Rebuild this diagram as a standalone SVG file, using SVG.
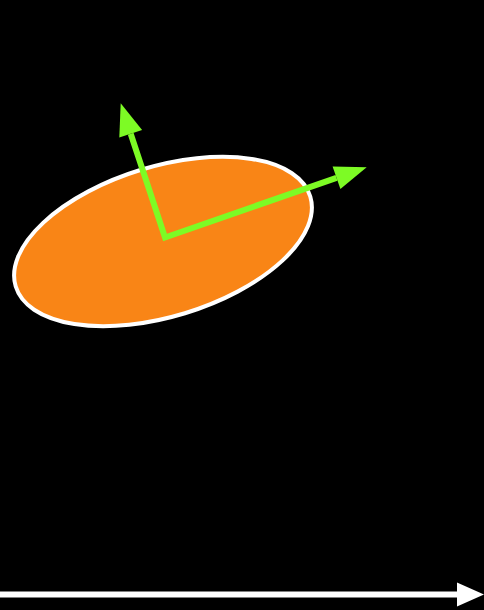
<svg xmlns="http://www.w3.org/2000/svg" width="484" height="610" viewBox="0 0 484 610">
<style>
.green{stroke:#7dfb25;stroke-width:6;fill:none;stroke-linejoin:miter}
.greenhead{fill:#7dfb25}
</style>
<rect x="0" y="0" width="484" height="610" fill="#000000"/>
<g id="ellipse">
<ellipse cx="163" cy="241.5" rx="154" ry="75" transform="rotate(-17 163 241.5)" fill="#f98516" stroke="#ffffff" stroke-width="4"/>
</g>
<g id="axes">
<polyline class="green" points="130.7,133.7 165,237.5 336.5,177.8"/>
<polygon class="greenhead" points="366.7,167.3 340.4,189.1 332.6,166.5"/>
<polygon class="greenhead" points="120.7,103.3 142.1,129.9 119.3,137.5"/>
</g>
<g id="connectors">
<line x1="0" y1="594.5" x2="458" y2="594.5" stroke="#ffffff" stroke-width="6"/>
<polygon points="484,594.5 457,582.5 457,606.5" fill="#ffffff"/>
</g>
</svg>
